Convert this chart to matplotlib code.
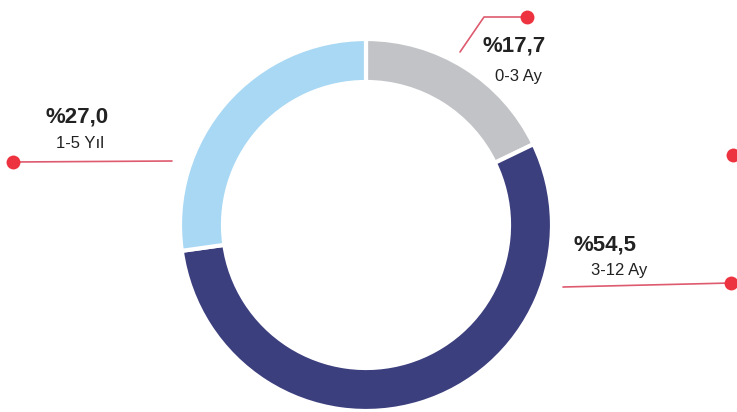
import matplotlib.pyplot as plt

# Vade dağılımı (maturity breakdown)
labels = ["0-3 Ay", "3-12 Ay", "1-5 Yıl"]
values = [17.7, 54.5, 27.0]
colors = ["#C1C3C7", "#3C3F7E", "#A8D8F4"]

plt.rcParams["font.family"] = ["Liberation Sans", "DejaVu Sans"]

W, H = 737, 412
fig = plt.figure(figsize=(W / 100, H / 100), dpi=100)
ax = fig.add_axes([0, 0, 1, 1])
ax.set_xlim(0, W)
ax.set_ylim(0, H)
ax.set_aspect("equal")
ax.axis("off")


def py(y):
    # image pixel row -> data y
    return H - y


ax.pie(
    values,
    colors=colors,
    startangle=90,
    counterclock=False,
    center=(366, py(225)),
    radius=186,
    wedgeprops=dict(width=43, edgecolor="white", linewidth=3),
    frame=True,
)
ax.set_xlim(0, W)
ax.set_ylim(0, H)
ax.axis("off")

line_c = "#DE5A6E"
dot_c = "#EE3340"


def fmt(v):
    return "%" + f"{v:.1f}".replace(".", ",")


# leader lines and dots
leaders = [
    ([460, 484, 527], [52, 17, 17]),   # 0-3 Ay
    ([563, 731], [287, 283]),          # 3-12 Ay
    ([172, 13], [161, 162]),           # 1-5 Yıl
]
for xs, ys in leaders:
    ax.plot(xs, [py(y) for y in ys], color=line_c, lw=1.2, solid_capstyle="round")
    ax.plot(xs[-1], py(ys[-1]), "o", color=dot_c, ms=10, mec="none")

# stray dot at right edge
ax.plot(733, py(155), "o", color=dot_c, ms=10, mec="none", clip_on=True)

# labels: (pct x, pct y, name x, name y)
label_pos = [
    (514, 46, 519, 76),
    (605, 245, 619, 270),
    (77, 117, 80, 143),
]
for (px, pyy, nx, ny), lab, v in zip(label_pos, labels, values):
    ax.text(px, py(pyy), fmt(v), ha="center", va="center",
            fontsize=16, fontweight="bold", color="#222222")
    ax.text(nx, py(ny), lab, ha="center", va="center",
            fontsize=12, color="#222222")

fig.savefig("out.png", dpi=100)
